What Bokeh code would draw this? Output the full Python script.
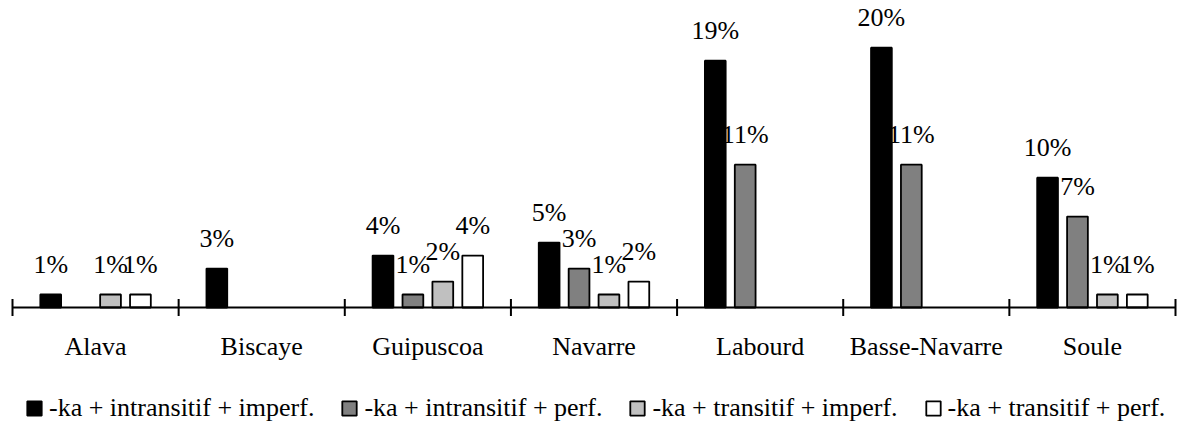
import math
from bokeh.plotting import figure
from bokeh.models import ColumnDataSource, Legend, LegendItem
from bokeh.transform import dodge
from bokeh.core.properties import value
from bokeh.embed import file_html
from bokeh.resources import INLINE

categories = ["Alava", "Biscaye", "Guipuscoa", "Navarre", "Labourd", "Basse-Navarre", "Soule"]
series_names = ["-ka + intransitif + imperf.", "-ka + intransitif + perf.",
                "-ka + transitif + imperf.", "-ka + transitif + perf."]
intr_imperf = [1, 3, 4, 5, 19, 20, 10]
intr_perf = [0, 0, 1, 3, 11, 11, 7]
tr_imperf = [1, 0, 2, 1, 0, 0, 1]
tr_perf = [1, 0, 4, 2, 0, 0, 1]

series_values = [intr_imperf, intr_perf, tr_imperf, tr_perf]
colors = ["#000000", "#808080", "#c0c0c0", "#ffffff"]
offsets = [-0.27, -0.09, 0.09, 0.27]
FONT = "Liberation Serif"

n = len(categories)
centers = [i + 0.5 for i in range(n)]
bounds = list(range(n + 1))

# frame covers the whole page; the category axis is drawn at y = 0 inside it
W, H = 1177, 426
x_px = 1163 / n          # pixels per category
y_px = 300 / 23.1        # pixels per percent
x_start = -12 / x_px
x_end = n + 2 / x_px
y_end = 307 / y_px
y_start = -(H - 307) / y_px

p = figure(width=W, height=H, x_range=(x_start, x_end), y_range=(y_start, y_end),
           output_backend="svg", toolbar_location=None,
           x_axis_location=None, y_axis_location=None,
           min_border_left=0, min_border_right=0, min_border_top=0, min_border_bottom=0)
p.grid.visible = False
p.outline_line_color = None
p.background_fill_color = None

items = []
for name, vals, col, off in zip(series_names, series_values, colors, offsets):
    xs = [c for c, v in zip(centers, vals) if v]
    tops = [v for v in vals if v]
    src = ColumnDataSource(dict(x=xs, top=tops, label=[f"{v}%" for v in tops]))
    r = p.vbar(x=dodge("x", off, range=p.x_range), top="top", bottom=0, width=0.125, source=src,
               fill_color=col, line_color="black", line_width=1.8)
    p.text(x=dodge("x", off, range=p.x_range), y="top", text="label", source=src,
           text_align="center", text_baseline="alphabetic", y_offset=-30,
           text_font=value(FONT), text_font_size="26px", text_color="black")
    items.append(LegendItem(label=name, renderers=[r]))

# category axis: line, boundary ticks and centred labels
p.segment(x0=[bounds[0]], y0=[0], x1=[bounds[-1]], y1=[0], line_color="black", line_width=2)
p.scatter(x=bounds, y=[0] * len(bounds), marker="dash", size=17, angle=math.pi / 2,
          line_color="black", line_width=2)
p.text(x=centers, y=[0] * n, text=categories, text_align="center", text_baseline="middle",
       y_offset=39, text_font=value(FONT), text_font_size="26px", text_color="black")

legend = Legend(items=items, orientation="horizontal", location=(25, 3),
                glyph_width=18, glyph_height=18, label_standoff=6, spacing=26,
                padding=0, margin=0, border_line_color=None, background_fill_alpha=0,
                label_text_font=FONT, label_text_font_size="26px", label_text_color="black")
p.add_layout(legend, "center")

open("out.html", "w").write(file_html(p, INLINE))
